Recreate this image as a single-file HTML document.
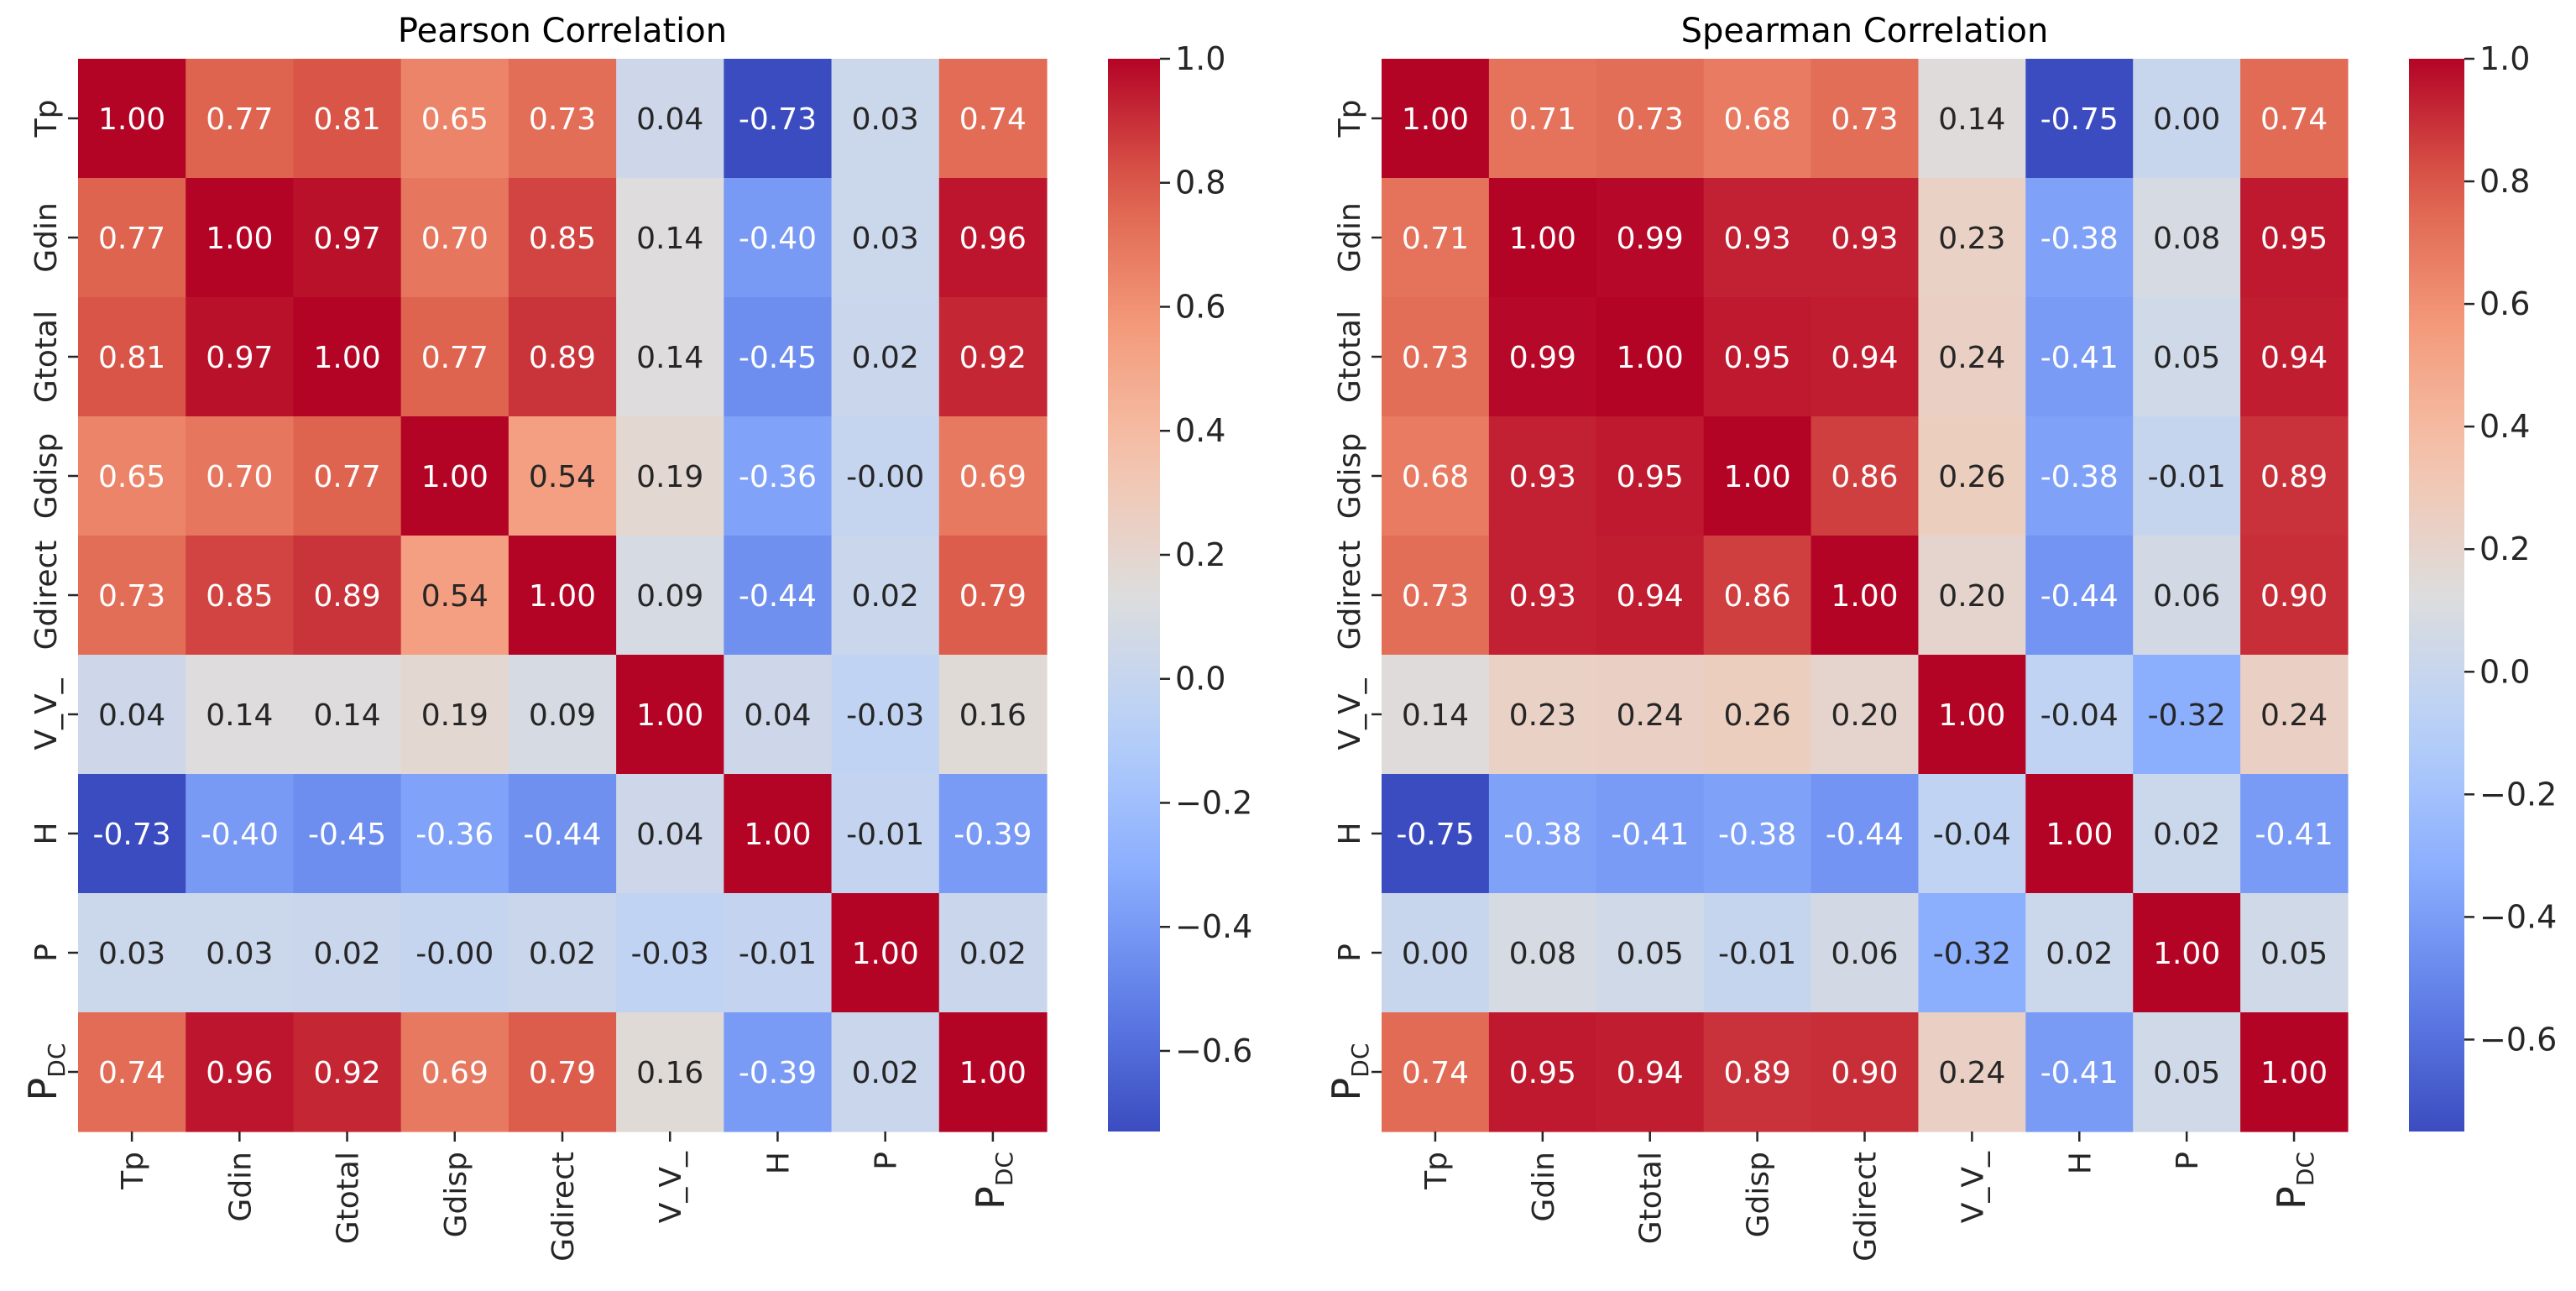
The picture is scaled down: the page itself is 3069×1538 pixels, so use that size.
<!DOCTYPE html>
<html><head><meta charset="utf-8"><style>
html,body{margin:0;padding:0;background:#fff;}
svg{display:block;font-family:"DejaVu Sans","Liberation Sans",sans-serif;}
</style></head><body>
<svg id="chart" width="3069" height="1538" viewBox="0 0 3069 1538" xmlns="http://www.w3.org/2000/svg"></svg>
<script>
const labels = ["Tp","Gdin","Gtotal","Gdisp","Gdirect","V_V_","H","P","PDC"];
const pearson = [
[1.00,0.77,0.81,0.65,0.73,0.04,-0.73,0.03,0.74],
[0.77,1.00,0.97,0.70,0.85,0.14,-0.40,0.03,0.96],
[0.81,0.97,1.00,0.77,0.89,0.14,-0.45,0.02,0.92],
[0.65,0.70,0.77,1.00,0.54,0.19,-0.36,-0.001,0.69],
[0.73,0.85,0.89,0.54,1.00,0.09,-0.44,0.02,0.79],
[0.04,0.14,0.14,0.19,0.09,1.00,0.04,-0.03,0.16],
[-0.73,-0.40,-0.45,-0.36,-0.44,0.04,1.00,-0.01,-0.39],
[0.03,0.03,0.02,-0.001,0.02,-0.03,-0.01,1.00,0.02],
[0.74,0.96,0.92,0.69,0.79,0.16,-0.39,0.02,1.00]];
const spearman = [
[1.00,0.71,0.73,0.68,0.73,0.14,-0.75,0.00,0.74],
[0.71,1.00,0.99,0.93,0.93,0.23,-0.38,0.08,0.95],
[0.73,0.99,1.00,0.95,0.94,0.24,-0.41,0.05,0.94],
[0.68,0.93,0.95,1.00,0.86,0.26,-0.38,-0.01,0.89],
[0.73,0.93,0.94,0.86,1.00,0.20,-0.44,0.06,0.90],
[0.14,0.23,0.24,0.26,0.20,1.00,-0.04,-0.32,0.24],
[-0.75,-0.38,-0.41,-0.38,-0.44,-0.04,1.00,0.02,-0.41],
[0.00,0.08,0.05,-0.01,0.06,-0.32,0.02,1.00,0.05],
[0.74,0.95,0.94,0.89,0.90,0.24,-0.41,0.05,1.00]];
const cbarTicks = [1.0,0.8,0.6,0.4,0.2,0.0,-0.2,-0.4,-0.6];

const cmap=[[59,76,192],[97,128,233],[141,176,254],[184,208,249],[221,221,221],[245,196,173],[244,154,123],[222,96,77],[180,4,38]];
function color(t){t=Math.max(0,Math.min(1,t));const p=t*8,i=Math.min(7,Math.floor(p)),f=p-i;
 const a=cmap[i],b=cmap[i+1];return [0,1,2].map(k=>Math.round(a[k]+(b[k]-a[k])*f));}
function lum(c){const l=c.map(v=>{v/=255;return v<=0.03928?v/12.92:Math.pow((v+0.055)/1.055,2.4)});return 0.2126*l[0]+0.7152*l[1]+0.0722*l[2];}
const NS="http://www.w3.org/2000/svg";
const svg=document.getElementById('chart');
function el(tag,attrs,parent){const e=document.createElementNS(NS,tag);for(const k in attrs)e.setAttribute(k,attrs[k]);(parent||svg).appendChild(e);return e;}
function fmt(v){return (v<0&&v>-0.005)?"-0.00":v.toFixed(2);}

function drawLabel(parent,name,x,y,anchor){
  const t=el('text',{x:x,y:y,'font-size':36,fill:'#262626','text-anchor':anchor,transform:`rotate(-90 ${x} ${y})`},parent);
  if(name==="PDC"){t.appendChild(document.createTextNode("P"));const s=el('tspan',{'font-size':28,dy:10},t);s.textContent="DC";t.setAttribute('font-size',46);}
  else t.textContent=name;
  return t;
}

function panel(id,title,data,minV,hx,hw,cbx,cbw){
  const g=el('g',{});
  
  
  const hy=70,hh=1278,n=labels.length,cw=hw/n,ch=hh/n;
  const xS=i=>hx+i*cw, yS=j=>hy+j*ch;
  const cT=v=>(v-minV)/(1-minV);
  const tt=el('text',{x:hx+hw/2,y:50,'font-size':40,'text-anchor':'middle',fill:'#000'},g);
  tt.textContent=title;
  
  
  for(let r=0;r<n;r++)for(let c=0;c<n;c++){
    const v=data[r][c],col=color(cT(v));
    const rect=el('rect',{x:xS(c),y:yS(r),width:cw+0.6,height:ch+0.6,fill:`rgb(${col})`},g);
    
    
    const tx=el('text',{x:xS(c)+cw/2,y:yS(r)+ch/2+13,'font-size':36,'text-anchor':'middle',fill:lum(col)>0.408?'#262626':'#ffffff'},g);
    tx.textContent=fmt(v);
    
    
  }
  for(let i=0;i<n;i++){
    const cy=yS(i)+ch/2;
    el('line',{x1:hx-12,x2:hx,y1:cy,y2:cy,stroke:'#262626','stroke-width':2.5},g);
    const yl=drawLabel(g,labels[i],hx-26,cy,'middle');
    
    
    const cx=xS(i)+cw/2;
    el('line',{x1:cx,x2:cx,y1:hy+hh,y2:hy+hh+12,stroke:'#262626','stroke-width':2.5},g);
    const xl=drawLabel(g,labels[i],cx+13,hy+hh+24,'end');
    
    
  }
  const defs=el('defs',{},g);
  const grad=el('linearGradient',{id:'grad'+id,x1:0,y1:1,x2:0,y2:0},defs);
  for(let k=0;k<=20;k++){const t=k/20;el('stop',{offset:t,'stop-color':`rgb(${color(t)})`},grad);}
  const cb=el('rect',{x:cbx,y:hy,width:cbw,height:hh,fill:`url(#grad${id})`},g);
  
  
  const cbY=v=>hy+hh*(1-v)/(1-minV);
  cbarTicks.forEach(v=>{
    const y=cbY(v);
    el('line',{x1:cbx+cbw,x2:cbx+cbw+12,y1:y,y2:y,stroke:'#262626','stroke-width':2.5},g);
    const t=el('text',{x:cbx+cbw+18,y:y+13,'font-size':38,fill:'#262626'},g);
    t.textContent=(v<0?'\u2212':'')+Math.abs(v).toFixed(1);
    
    
  });
}
panel('pearson','Pearson Correlation',pearson,-0.73,93,1154,1320,62);
panel('spearman','Spearman Correlation',spearman,-0.75,1646,1151,2870,66);
</script>
</body></html>
